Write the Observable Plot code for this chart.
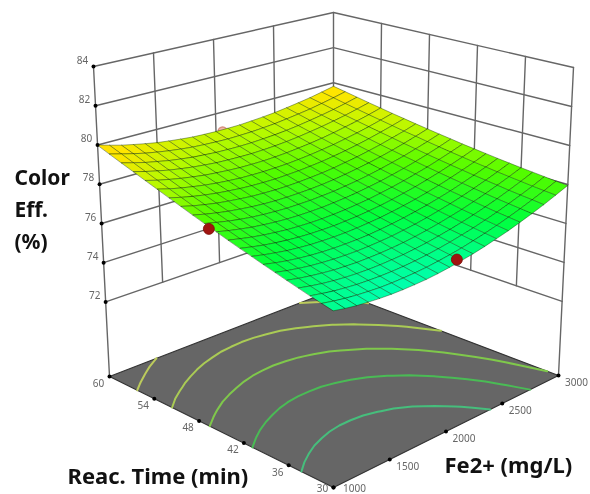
<!DOCTYPE html>
<html>
<head>
<meta charset="utf-8">
<style>
html,body{margin:0;padding:0;background:#fff;overflow:hidden}
svg{display:block;filter:blur(.4px)}
</style>
<script src="https://cdn.jsdelivr.net/npm/d3@7"></script>
<script src="https://cdn.jsdelivr.net/npm/@observablehq/plot@0.6"></script>
</head>
<body>
<div id="chart"></div>
<script>
// Chart values
const feValues = [1000,1100,1200,1300,1400,1500,1600,1700,1800,1900,2000,2100,2200,2300,2400,2500,2600,2700,2800,2900,3000];
const timeValues = [30,31.5,33,34.5,36,37.5,39,40.5,42,43.5,45,46.5,48,49.5,51,52.5,54,55.5,57,58.5,60];
const feTicks = [1000,1500,2000,2500,3000];
const timeTicks = [30,36,42,48,54,60];
const zTicks = [72,74,76,78,80,82,84];
const contourLevels = [76.6,77.3,78,78.7,79.4];
const contourColors = ["#46be7c","#4abb55","#7fc84b","#aacb55","#bccb5c"];
const designFe = [1000,2060];
const designTime = [46,30];
const designEff = [77.8,76.34];
const hiddenFe = [2056];
const hiddenTime = [60];
const hiddenEff = [78.95];
// Color Eff. (%) by reaction time (rows) and Fe2+ (columns)
const colorEff = [
[76.20,76.10,76.02,75.97,75.93,75.91,75.91,75.93,75.96,76.02,76.10,76.20,76.31,76.45,76.61,76.78,76.98,77.19,77.42,77.68,77.95],
[76.33,76.23,76.15,76.09,76.05,76.02,76.02,76.04,76.07,76.12,76.20,76.29,76.40,76.54,76.69,76.86,77.05,77.26,77.49,77.73,78.00],
[76.47,76.37,76.28,76.22,76.17,76.15,76.14,76.15,76.18,76.23,76.30,76.39,76.50,76.63,76.77,76.94,77.12,77.33,77.55,77.79,78.06],
[76.62,76.51,76.42,76.35,76.30,76.27,76.26,76.27,76.30,76.34,76.41,76.49,76.60,76.72,76.86,77.02,77.20,77.40,77.62,77.86,78.12],
[76.77,76.66,76.57,76.50,76.44,76.41,76.39,76.40,76.42,76.46,76.52,76.60,76.70,76.82,76.96,77.11,77.29,77.48,77.70,77.93,78.18],
[76.93,76.81,76.72,76.64,76.59,76.55,76.53,76.53,76.55,76.59,76.64,76.72,76.81,76.93,77.06,77.21,77.38,77.57,77.78,78.00,78.25],
[77.09,76.97,76.87,76.79,76.73,76.69,76.67,76.67,76.68,76.71,76.77,76.84,76.93,77.04,77.16,77.31,77.47,77.66,77.86,78.08,78.32],
[77.26,77.14,77.04,76.95,76.89,76.84,76.82,76.81,76.82,76.85,76.90,76.96,77.05,77.15,77.27,77.41,77.57,77.75,77.95,78.16,78.40],
[77.43,77.31,77.20,77.12,77.05,77.00,76.97,76.96,76.96,76.99,77.03,77.09,77.17,77.27,77.39,77.52,77.68,77.85,78.04,78.25,78.48],
[77.61,77.49,77.38,77.29,77.22,77.16,77.13,77.11,77.11,77.13,77.17,77.23,77.30,77.40,77.51,77.64,77.79,77.95,78.14,78.34,78.56],
[77.80,77.67,77.56,77.46,77.39,77.33,77.29,77.27,77.27,77.28,77.32,77.37,77.44,77.53,77.63,77.76,77.90,78.06,78.24,78.44,78.66],
[77.99,77.86,77.74,77.64,77.56,77.50,77.46,77.43,77.43,77.44,77.47,77.51,77.58,77.66,77.76,77.88,78.02,78.17,78.35,78.54,78.75],
[78.19,78.05,77.93,77.83,77.75,77.68,77.63,77.60,77.59,77.60,77.62,77.66,77.72,77.80,77.90,78.01,78.14,78.29,78.46,78.65,78.85],
[78.40,78.25,78.13,78.02,77.94,77.87,77.81,77.78,77.76,77.76,77.78,77.82,77.87,77.94,78.04,78.14,78.27,78.41,78.58,78.75,78.95],
[78.61,78.46,78.33,78.22,78.13,78.06,78.00,77.96,77.94,77.93,77.95,77.98,78.03,78.09,78.18,78.28,78.40,78.54,78.70,78.87,79.06],
[78.83,78.67,78.54,78.43,78.33,78.25,78.19,78.14,78.12,78.11,78.12,78.14,78.19,78.25,78.33,78.42,78.54,78.67,78.82,78.99,79.17],
[79.05,78.89,78.76,78.64,78.54,78.45,78.39,78.34,78.30,78.29,78.29,78.31,78.35,78.41,78.48,78.57,78.68,78.81,78.95,79.11,79.29],
[79.28,79.12,78.98,78.85,78.75,78.66,78.59,78.53,78.50,78.48,78.47,78.49,78.52,78.57,78.64,78.73,78.83,78.95,79.08,79.24,79.41],
[79.51,79.35,79.20,79.08,78.96,78.87,78.79,78.74,78.69,78.67,78.66,78.67,78.70,78.74,78.80,78.88,78.98,79.09,79.22,79.37,79.54],
[79.75,79.59,79.44,79.30,79.19,79.09,79.01,78.94,78.90,78.87,78.85,78.86,78.88,78.92,78.97,79.05,79.14,79.24,79.37,79.51,79.67],
[80.00,79.83,79.67,79.54,79.42,79.31,79.23,79.16,79.10,79.07,79.05,79.05,79.06,79.10,79.15,79.21,79.30,79.40,79.51,79.65,79.80]
];

// View of the 3D box: where its eight corners fall in the picture
const view = {
  zFloor: 68.2, zTop: 84,
  floor: {a:[333,487], b:[558,375], c:[109,376], d:[333,289.5]},
  top:   {a:[333,138], b:[573,67],  c:[93,66],   d:[333,12]}
};
const bilerp = (f,u,v,k) => f.a[k]*(1-u)*(1-v)+f.b[k]*u*(1-v)+f.c[k]*(1-u)*v+f.d[k]*u*v;
function project(fe,time,z){
  const u=(fe-1000)/2000, v=(time-30)/30, t=(z-view.zFloor)/(view.zTop-view.zFloor);
  return {
    px: bilerp(view.floor,u,v,0)*(1-t)+bilerp(view.top,u,v,0)*t,
    py: bilerp(view.floor,u,v,1)*(1-t)+bilerp(view.top,u,v,1)*t
  };
}
const path = (id,pts,extra={}) => pts.map(p=>({...project(...p),id,...extra}));

// Surface cells, far corner first
const cells=[];
for(let j=timeValues.length-2;j>=0;j--) for(let i=feValues.length-2;i>=0;i--){
  const v=(colorEff[j][i]+colorEff[j][i+1]+colorEff[j+1][i]+colorEff[j+1][i+1])/4;
  cells.push(...path(`${i}-${j}`,[
    [feValues[i],timeValues[j],colorEff[j][i]],
    [feValues[i+1],timeValues[j],colorEff[j][i+1]],
    [feValues[i+1],timeValues[j+1],colorEff[j+1][i+1]],
    [feValues[i],timeValues[j+1],colorEff[j+1][i]]
  ],{v}));
}

// Floor
const floorPoly=path("floor",[[1000,30,view.zFloor],[3000,30,view.zFloor],[3000,60,view.zFloor],[1000,60,view.zFloor]]);

// Contours on the floor
const nx=feValues.length, ny=timeValues.length;
const contourRuns=[];
d3.contours().size([nx,ny]).smooth(true).thresholds(contourLevels)(colorEff.flat()).forEach(c=>{
  const level=c.value;
  const color=contourColors[contourLevels.indexOf(level)];
  c.coordinates.forEach((poly,a)=>poly.forEach((ring,b)=>{
    let run=0;
    ring.forEach(([x,y])=>{
      if(x<=0||y<=0||x>=nx||y>=ny){run++;return;}
      const fe=1000+2000*Math.min(1,Math.max(0,(x-.5)/(nx-1)));
      const time=30+30*Math.min(1,Math.max(0,(y-.5)/(ny-1)));
      contourRuns.push({...project(fe,time,view.zFloor),id:`${level}-${a}-${b}-${run}`,color});
    });
  }));
});

// Wall grid
const walls=[];
zTicks.forEach(z=>{
  walls.push(...path(`zl${z}`,[[1000,60,z],[3000,60,z],[3000,30,z]]));
});
feTicks.slice(1,-1).forEach(fe=>walls.push(...path(`fe${fe}`,[[fe,60,72],[fe,60,84]])));
timeTicks.slice(1,-1).forEach(t=>walls.push(...path(`t${t}`,[[3000,t,72],[3000,t,84]])));
walls.push(...path("back",[[3000,60,72],[3000,60,84]]));
walls.push(...path("left",[[1000,60,view.zFloor],[1000,60,84]]));
walls.push(...path("right",[[3000,30,view.zFloor],[3000,30,84]]));

const zTickPts=zTicks.map(z=>({...project(1000,60,z),label:String(z)}));
const timeTickPts=timeTicks.map(t=>({...project(1000,t,view.zFloor),label:String(t)}));
const feTickPts=feTicks.map(f=>({...project(f,30,view.zFloor),label:String(f)}));
const designPts=designFe.map((f,i)=>project(f,designTime[i],designEff[i]));
const hiddenPts=hiddenFe.map((f,i)=>project(f,hiddenTime[i],hiddenEff[i]));

const tickFont={fontFamily:"'Noto Sans',sans-serif",fontSize:10,fill:"#666"};
const titleFont={fontFamily:"'Noto Sans',sans-serif",fontWeight:700,fill:"#111",frameAnchor:"top-left",textAnchor:"start",lineAnchor:"top"};
const frontLabel=d=>d.label==="30"||d.label==="1000";

const chart=Plot.plot({
  width:590,height:494,margin:0,
  style:{background:"#fff"},
  x:{domain:[0,590],range:[0,590],axis:null},
  y:{domain:[0,494],range:[0,494],axis:null},
  color:{type:"linear",domain:[76,77,78,78.8,79.6],range:["#00ffa8","#00ff3c","#50fc00","#b4fa00","#ffe600"]},
  marks:[
    Plot.line(floorPoly,{x:"px",y:"py",z:"id",curve:"linear-closed",fill:"#666",stroke:"#333",strokeWidth:1.2}),
    Plot.line(contourRuns,{x:"px",y:"py",z:"id",stroke:"color",strokeWidth:2}),
    Plot.line(walls,{x:"px",y:"py",z:"id",stroke:"#666",strokeWidth:1.4}),
    Plot.dot(hiddenPts,{x:"px",y:"py",r:4.5,fill:"#f0b8a8",stroke:"#d89080"}),
    Plot.line(cells,{x:"px",y:"py",z:"id",curve:"linear-closed",fill:"v",stroke:"#0a2a00",strokeOpacity:.45,strokeWidth:.9}),
    Plot.dot(designPts,{x:"px",y:"py",r:5.5,fill:"#a01410",stroke:"#7a0c08",strokeWidth:.8}),
    Plot.dot([...zTickPts,...timeTickPts,...feTickPts],{x:"px",y:"py",r:2,fill:"#000"}),
    Plot.text(zTickPts,{x:"px",y:"py",text:"label",dx:-11,dy:-6,...tickFont}),
    Plot.text(timeTickPts.filter(d=>!frontLabel(d)),{x:"px",y:"py",text:"label",dx:-11,dy:7,...tickFont}),
    Plot.text(timeTickPts.filter(frontLabel),{x:"px",y:"py",text:"label",dx:-11,dy:1,...tickFont}),
    Plot.text(feTickPts.filter(d=>!frontLabel(d)),{x:"px",y:"py",text:"label",dx:18,dy:7,...tickFont}),
    Plot.text(feTickPts.filter(frontLabel),{x:"px",y:"py",text:"label",dx:21,dy:1,...tickFont}),
    Plot.text(["Color\nEff.\n(%)"],{dx:14,dy:162,fontSize:21,lineHeight:1.52,...titleFont}),
    Plot.text(["Reac. Time (min)"],{dx:67,dy:468,fontSize:22,...titleFont}),
    Plot.text(["Fe2+ (mg/L)"],{dx:444,dy:457,fontSize:22,...titleFont})
  ]
});
document.getElementById("chart").appendChild(chart);
</script>
</body>
</html>
